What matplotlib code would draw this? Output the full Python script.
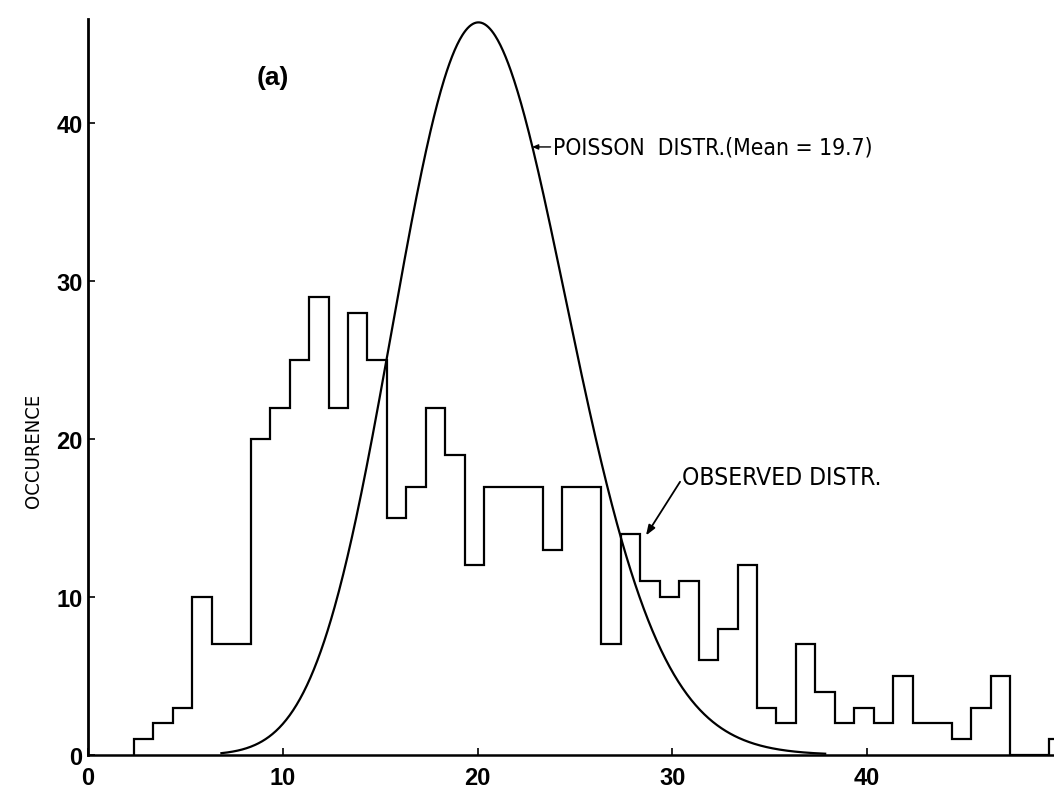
import math
import numpy as np
import matplotlib
matplotlib.use("Agg")
import matplotlib.pyplot as plt
from matplotlib import font_manager
from matplotlib.font_manager import FontProperties

# Observed occurrences per bin (bins 2 .. 49)
bin_start = 2
observed = [1, 2, 3, 10, 7, 7, 20, 22, 25, 29, 22, 28, 25, 15,
            17, 22, 19, 12, 17, 17, 17, 13, 17, 17, 7, 14, 11, 10,
            11, 6, 8, 12, 3, 2, 7, 4, 2, 3, 2, 5, 2, 2, 1, 3, 5, 0, 0, 1]

# Poisson model
poisson_mean = 19.7
n_total = 515

x_ticks = [0, 10, 20, 30, 40]
y_ticks = [0, 10, 20, 30, 40]


def pick_narrow_font():
    """Return a condensed sans-serif face if one is installed."""
    entries = font_manager.fontManager.ttflist
    regular = [f for f in entries
               if f.style == "normal" and f.weight in (400, "normal", "regular", "book")]
    for f in regular:
        if f.name == "Liberation Sans Narrow":
            return FontProperties(fname=f.fname)
    for f in regular:
        if "Narrow" in f.name or "Condensed" in f.name or \
                str(f.stretch) in ("condensed", "semi-condensed"):
            return FontProperties(fname=f.fname)
    return FontProperties(family="Liberation Sans")


narrow_fp = pick_narrow_font()
bold_family = "Liberation Sans"

fig = plt.figure(figsize=(10.54, 8.04), dpi=100)
ax = fig.add_axes([0.0835, 0.0597, 0.9165, 0.9154])

# Histogram drawn as a stair outline, slightly shifted bin edges
edge_shift = 0.35
edges = np.arange(bin_start, bin_start + len(observed) + 1) + edge_shift
ax.stairs(observed, edges, color="black", linewidth=1.6, baseline=0, zorder=3)

# Poisson curve through the bin centres
k = np.linspace(6.0, 37.0, 700)
pmf = np.exp(k * math.log(poisson_mean) - poisson_mean
             - np.array([math.lgamma(v + 1) for v in k]))
ax.plot(k + 0.5 + edge_shift, n_total * pmf, color="black", linewidth=1.6,
        clip_on=False, zorder=3)

ax.set_xlim(0, 49.6)
ax.set_ylim(0, 46.6)

for side in ("top", "right"):
    ax.spines[side].set_visible(False)
ax.spines["left"].set_linewidth(2.0)
ax.spines["bottom"].set_linewidth(1.8)

ax.set_xticks(x_ticks)
ax.set_yticks(y_ticks)
ax.tick_params(direction="in", length=5, width=1.2, labelsize=17)
ax.tick_params(axis="x", pad=8)
ax.tick_params(axis="y", pad=4)
for lab in ax.get_xticklabels() + ax.get_yticklabels():
    lab.set_fontfamily(bold_family)
    lab.set_fontweight("bold")

ylab = ax.set_ylabel("OCCURENCE", fontproperties=narrow_fp, fontsize=16)
ax.yaxis.set_label_coords(-0.047, 0.414)

ax.text(9.48, 42.9, "(a)", fontfamily=bold_family, fontweight="bold", fontsize=19,
        ha="center", va="center")

poisson_txt = ax.text(23.9, 38.5, "POISSON  DISTR.(Mean = 19.7)",
                      fontproperties=narrow_fp, fontsize=18, ha="left", va="center")
ax.annotate("", xy=(22.8, 38.5), xytext=(23.75, 38.5),
            arrowprops=dict(arrowstyle="-|>,head_length=0.35,head_width=0.15",
                            color="black", lw=1.0, shrinkA=0, shrinkB=0))

observed_txt = ax.text(30.5, 17.6, "OBSERVED DISTR.",
                       fontproperties=narrow_fp, fontsize=18, ha="left", va="center")
ax.annotate("", xy=(28.65, 13.9), xytext=(30.4, 17.3),
            arrowprops=dict(arrowstyle="-|>,head_length=0.6,head_width=0.22",
                            color="black", lw=1.3, shrinkA=0, shrinkB=0))

# Size the annotation texts to their printed extents (pixels)
renderer = fig.canvas.get_renderer()
for txt, target, use_height in ((poisson_txt, 320, False),
                                (observed_txt, 201, False),
                                (ylab, 115, True)):
    bb = txt.get_window_extent(renderer)
    size = bb.height if use_height else bb.width
    txt.set_fontsize(txt.get_fontsize() * target / size)

fig.savefig("out.png", dpi=100)
